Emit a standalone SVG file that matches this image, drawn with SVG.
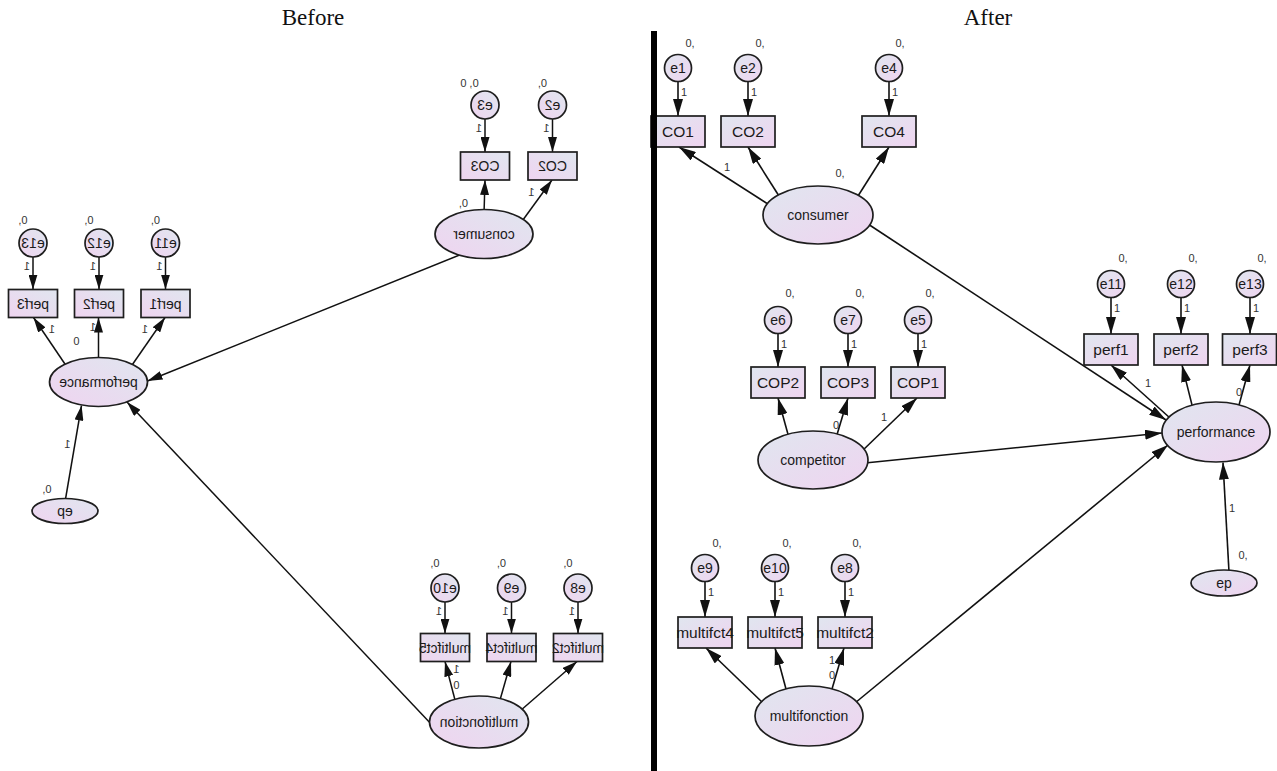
<svg xmlns="http://www.w3.org/2000/svg" width="1277" height="771" viewBox="0 0 1277 771">
<defs>
<linearGradient id="g" x1="0" y1="0" x2="1" y2="1">
<stop offset="0" stop-color="#e0e6ef"/>
<stop offset="1" stop-color="#efd4f0"/>
</linearGradient>
<marker id="ah" viewBox="0 0 17 10" refX="17" refY="5" markerWidth="17" markerHeight="10" orient="auto" markerUnits="userSpaceOnUse"><path d="M0,0 L17,5 L0,10 z" fill="#111"/></marker>
<marker id="ahs" viewBox="0 0 15 9" refX="15" refY="4.5" markerWidth="15" markerHeight="9" orient="auto" markerUnits="userSpaceOnUse"><path d="M0,0 L15,4.5 L0,9 z" fill="#111"/></marker>
</defs>
<style>
.n{fill:url(#g);stroke:#1e1e1e;stroke-width:1.7}
.ca line{stroke:#111;stroke-width:1.6;marker-end:url(#ah)}
.cb line{stroke:#111;stroke-width:1.5;marker-end:url(#ahs)}
.t{font-family:"Liberation Sans",Arial,sans-serif;text-anchor:middle;fill:#1a1a1a}
.b15{font-size:15.5px}
.b14{font-size:14px}
.sm{font-family:"Liberation Sans",Arial,sans-serif;text-anchor:middle;font-size:11px;fill:#333}
.ti{font-family:"Liberation Serif","Times New Roman",serif;font-size:23px;text-anchor:middle;fill:#111}
</style>
<rect width="1277" height="771" fill="#fff"/>
<text class="ti" x="313" y="25">Before</text>
<text class="ti" x="988" y="25">After</text>

<!-- BEFORE (mirrored) -->
<g transform="matrix(-1 0 0 1 653 0)">
<g id="conn-before" class="cb">
<line x1="620" y1="257" x2="620" y2="289.5"/>
<line x1="554" y1="257" x2="554" y2="289.5"/>
<line x1="487.5" y1="257" x2="487.5" y2="289.5"/>
<line x1="168" y1="119" x2="168" y2="152"/>
<line x1="100.5" y1="119" x2="100.5" y2="152"/>
<line x1="208" y1="602" x2="208" y2="633.5"/>
<line x1="141.5" y1="602" x2="141.5" y2="633.5"/>
<line x1="75" y1="602" x2="75" y2="633.5"/>
<line x1="584" y1="370" x2="619.5" y2="317.5"/>
<line x1="554.5" y1="362" x2="554.5" y2="317.5"/>
<line x1="523" y1="368" x2="488" y2="317.5"/>
<line x1="191" y1="254" x2="505.5" y2="381"/>
<line x1="169" y1="214" x2="168" y2="180"/>
<line x1="133" y1="224" x2="101" y2="180"/>
<line x1="220" y1="726" x2="526" y2="402"/>
<line x1="198" y1="700" x2="208" y2="661.5"/>
<line x1="153" y1="700" x2="142" y2="661.5"/>
<line x1="133" y1="711" x2="76" y2="661.5"/>
<line x1="588" y1="502" x2="571.5" y2="405.5"/>
</g>
<g id="b-e13"><circle class="n" cx="620" cy="243" r="14"/><text class="t b14" x="620" y="248">e13</text><text class="sm" x="630" y="224">0,</text><text class="sm" x="626" y="270">1</text></g>
<g id="b-e12"><circle class="n" cx="554" cy="243" r="14"/><text class="t b14" x="554" y="248">e12</text><text class="sm" x="564" y="224">0,</text><text class="sm" x="560" y="270">1</text></g>
<g id="b-e11"><circle class="n" cx="487.5" cy="243" r="14"/><text class="t b14" x="487.5" y="248">e11</text><text class="sm" x="497.5" y="224">0,</text><text class="sm" x="493.5" y="270">1</text></g>
<g id="b-perf3"><rect class="n" x="595.5" y="289.5" width="49" height="28"/><text class="t b14" x="620" y="308.5">perf3</text></g>
<g id="b-perf2"><rect class="n" x="529.5" y="289.5" width="49" height="28"/><text class="t b14" x="554" y="308.5">perf2</text></g>
<g id="b-perf1"><rect class="n" x="463" y="289.5" width="49" height="28"/><text class="t b14" x="487.5" y="308.5">perf1</text></g>
<g id="b-performance"><ellipse class="n" cx="554.5" cy="382" rx="49" ry="24.5"/><text class="t b14" x="554.5" y="387">performance</text><text class="sm" x="601" y="333">1</text><text class="sm" x="560" y="330.5">1</text><text class="sm" x="576.5" y="344.5">0</text><text class="sm" x="508" y="333">1</text></g>
<g id="b-ep"><ellipse class="n" cx="588" cy="511" rx="33" ry="12.5"/><text class="t b14" x="588" y="516">ep</text><text class="sm" x="606" y="493">0,</text><text class="sm" x="585.5" y="448">1</text></g>
<g id="b-e3"><circle class="n" cx="168" cy="105" r="14"/><text class="t b14" x="168" y="110">e3</text><text class="sm" x="183.5" y="86.5">0, 0</text><text class="sm" x="174" y="132">1</text></g>
<g id="b-e2"><circle class="n" cx="100.5" cy="105" r="14"/><text class="t b14" x="100.5" y="110">e2</text><text class="sm" x="110.5" y="86.5">0,</text><text class="sm" x="106.5" y="132">1</text></g>
<g id="b-CO3"><rect class="n" x="143.5" y="152" width="49" height="28"/><text class="t b14" x="168" y="171">CO3</text></g>
<g id="b-CO2"><rect class="n" x="76" y="152" width="49" height="28"/><text class="t b14" x="100.5" y="171">CO2</text></g>
<g id="b-consumer"><ellipse class="n" cx="169" cy="234" rx="49" ry="24.5"/><text class="t b14" x="169" y="239">consumer</text><text class="sm" x="189.5" y="207">0,</text><text class="sm" x="121.5" y="195.5">1</text></g>
<g id="b-e10"><circle class="n" cx="208" cy="588" r="14"/><text class="t b14" x="208" y="593">e10</text><text class="sm" x="218" y="567">0,</text><text class="sm" x="214" y="615">1</text></g>
<g id="b-e9"><circle class="n" cx="141.5" cy="588" r="14"/><text class="t b14" x="141.5" y="593">e9</text><text class="sm" x="151.5" y="567">0,</text><text class="sm" x="147.5" y="615">1</text></g>
<g id="b-e8"><circle class="n" cx="75" cy="588" r="14"/><text class="t b14" x="75" y="593">e8</text><text class="sm" x="85" y="567">0,</text><text class="sm" x="81" y="615">1</text></g>
<g id="b-multifct5"><rect class="n" x="183.5" y="633.5" width="49" height="28"/><text class="t b14" x="208" y="652.5">multifct5</text></g>
<g id="b-multifct4"><rect class="n" x="117" y="633.5" width="49" height="28"/><text class="t b14" x="141.5" y="652.5">multifct4</text></g>
<g id="b-multifct2"><rect class="n" x="50.5" y="633.5" width="49" height="28"/><text class="t b14" x="75" y="652.5">multifct2</text></g>
<g id="b-multifonction"><ellipse class="n" cx="174" cy="722" rx="49.5" ry="26"/><text class="t b14" x="174" y="727">multifonction</text><text class="sm" x="196.5" y="673">1</text><text class="sm" x="196.5" y="689">0</text></g>
</g>

<!-- AFTER -->
<g id="conn-after" class="ca">
<line x1="678" y1="81.5" x2="678" y2="116"/>
<line x1="748" y1="81.5" x2="748" y2="116"/>
<line x1="889" y1="81.5" x2="889" y2="116"/>
<line x1="771" y1="206" x2="679" y2="147"/>
<line x1="779" y1="196" x2="748" y2="147"/>
<line x1="858" y1="196" x2="889" y2="147"/>
<line x1="868" y1="224" x2="1166" y2="420"/>
<line x1="778" y1="333.5" x2="778" y2="367"/>
<line x1="848" y1="333.5" x2="848" y2="367"/>
<line x1="918" y1="333.5" x2="918" y2="367"/>
<line x1="789" y1="438" x2="778" y2="398"/>
<line x1="836" y1="438" x2="848" y2="398"/>
<line x1="861" y1="452" x2="917" y2="398"/>
<line x1="865" y1="463" x2="1162" y2="433"/>
<line x1="1111" y1="297.5" x2="1111" y2="334"/>
<line x1="1181" y1="297.5" x2="1181" y2="334"/>
<line x1="1250" y1="297.5" x2="1250" y2="334"/>
<line x1="1170" y1="418" x2="1111" y2="365"/>
<line x1="1192" y1="405" x2="1182" y2="365"/>
<line x1="1239" y1="405" x2="1250" y2="365"/>
<line x1="1229" y1="572" x2="1223" y2="462.5"/>
<line x1="705" y1="581.5" x2="705" y2="617"/>
<line x1="775" y1="581.5" x2="775" y2="617"/>
<line x1="845" y1="581.5" x2="845" y2="617"/>
<line x1="763" y1="703" x2="706" y2="648"/>
<line x1="786" y1="689" x2="775" y2="648"/>
<line x1="832" y1="689" x2="844" y2="648"/>
<line x1="855" y1="703" x2="1168" y2="445"/>
</g>
<g id="a-e1"><circle class="n" cx="678" cy="68" r="13.5"/><text class="t b14" x="678" y="73">e1</text><text class="sm" x="690" y="47">0,</text><text class="sm" x="684" y="96">1</text></g>
<g id="a-e2"><circle class="n" cx="748" cy="68" r="13.5"/><text class="t b14" x="748" y="73">e2</text><text class="sm" x="760" y="47">0,</text><text class="sm" x="754" y="96">1</text></g>
<g id="a-e4"><circle class="n" cx="889" cy="68" r="13.5"/><text class="t b14" x="889" y="73">e4</text><text class="sm" x="900" y="47">0,</text><text class="sm" x="895" y="96">1</text></g>
<g id="a-CO1"><rect class="n" x="651" y="116" width="54" height="31"/><text class="t b15" x="678" y="137">CO1</text></g>
<g id="a-CO2"><rect class="n" x="721" y="116" width="54" height="31"/><text class="t b15" x="748" y="137">CO2</text></g>
<g id="a-CO4"><rect class="n" x="862" y="116" width="54" height="31"/><text class="t b15" x="889" y="137">CO4</text></g>
<g id="a-consumer"><ellipse class="n" cx="818" cy="215" rx="55" ry="29"/><text class="t b14" x="818" y="220">consumer</text><text class="sm" x="840" y="177">0,</text><text class="sm" x="727" y="171">1</text></g>
<g id="a-e6"><circle class="n" cx="778" cy="320" r="13.5"/><text class="t b14" x="778" y="325">e6</text><text class="sm" x="790" y="297">0,</text><text class="sm" x="784" y="348">1</text></g>
<g id="a-e7"><circle class="n" cx="848" cy="320" r="13.5"/><text class="t b14" x="848" y="325">e7</text><text class="sm" x="860" y="297">0,</text><text class="sm" x="854" y="348">1</text></g>
<g id="a-e5"><circle class="n" cx="918" cy="320" r="13.5"/><text class="t b14" x="918" y="325">e5</text><text class="sm" x="930" y="297">0,</text><text class="sm" x="924" y="348">1</text></g>
<g id="a-COP2"><rect class="n" x="751" y="367" width="54" height="31"/><text class="t b15" x="778" y="388">COP2</text></g>
<g id="a-COP3"><rect class="n" x="821" y="367" width="54" height="31"/><text class="t b15" x="848" y="388">COP3</text></g>
<g id="a-COP1"><rect class="n" x="891" y="367" width="54" height="31"/><text class="t b15" x="918" y="388">COP1</text></g>
<g id="a-competitor"><ellipse class="n" cx="813" cy="460" rx="55" ry="29"/><text class="t b14" x="813" y="465">competitor</text><text class="sm" x="836" y="429">0</text><text class="sm" x="884" y="421">1</text></g>
<g id="a-e11"><circle class="n" cx="1111" cy="284" r="13.5"/><text class="t b14" x="1111" y="289">e11</text><text class="sm" x="1123" y="262">0,</text><text class="sm" x="1117" y="312">1</text></g>
<g id="a-e12"><circle class="n" cx="1181" cy="284" r="13.5"/><text class="t b14" x="1181" y="289">e12</text><text class="sm" x="1193" y="262">0,</text><text class="sm" x="1187" y="312">1</text></g>
<g id="a-e13"><circle class="n" cx="1250" cy="284" r="13.5"/><text class="t b14" x="1250" y="289">e13</text><text class="sm" x="1262" y="262">0,</text><text class="sm" x="1256" y="312">1</text></g>
<g id="a-perf1"><rect class="n" x="1084" y="334" width="54" height="31"/><text class="t b15" x="1111" y="355">perf1</text></g>
<g id="a-perf2"><rect class="n" x="1154" y="334" width="54" height="31"/><text class="t b15" x="1181" y="355">perf2</text></g>
<g id="a-perf3"><rect class="n" x="1222.5" y="334" width="54" height="31"/><text class="t b15" x="1250" y="355">perf3</text></g>
<g id="a-performance"><ellipse class="n" cx="1216" cy="432" rx="54" ry="30"/><text class="t b14" x="1216" y="437">performance</text><text class="sm" x="1148" y="387">1</text><text class="sm" x="1239" y="396">0</text></g>
<g id="a-ep"><ellipse class="n" cx="1224" cy="583" rx="33" ry="13"/><text class="t b14" x="1224" y="588">ep</text><text class="sm" x="1243" y="559">0,</text><text class="sm" x="1232" y="512">1</text></g>
<g id="a-e9"><circle class="n" cx="705" cy="568" r="13.5"/><text class="t b14" x="705" y="573">e9</text><text class="sm" x="717" y="547">0,</text><text class="sm" x="711" y="596">1</text></g>
<g id="a-e10"><circle class="n" cx="775" cy="568" r="13.5"/><text class="t b14" x="775" y="573">e10</text><text class="sm" x="787" y="547">0,</text><text class="sm" x="781" y="596">1</text></g>
<g id="a-e8"><circle class="n" cx="845" cy="568" r="13.5"/><text class="t b14" x="845" y="573">e8</text><text class="sm" x="857" y="547">0,</text><text class="sm" x="851" y="596">1</text></g>
<g id="a-multifct4"><rect class="n" x="678" y="617" width="54" height="31"/><text class="t b15" x="705" y="638">multifct4</text></g>
<g id="a-multifct5"><rect class="n" x="748" y="617" width="54" height="31"/><text class="t b15" x="775" y="638">multifct5</text></g>
<g id="a-multifct2"><rect class="n" x="818" y="617" width="54" height="31"/><text class="t b15" x="845" y="638">multifct2</text></g>
<g id="a-multifonction"><ellipse class="n" cx="809" cy="716" rx="54" ry="30"/><text class="t b14" x="809" y="721">multifonction</text><text class="sm" x="832" y="664">1</text><text class="sm" x="832" y="679">0</text></g>

<rect id="divider" x="651" y="31" width="6" height="740" fill="#000"/>
</svg>
